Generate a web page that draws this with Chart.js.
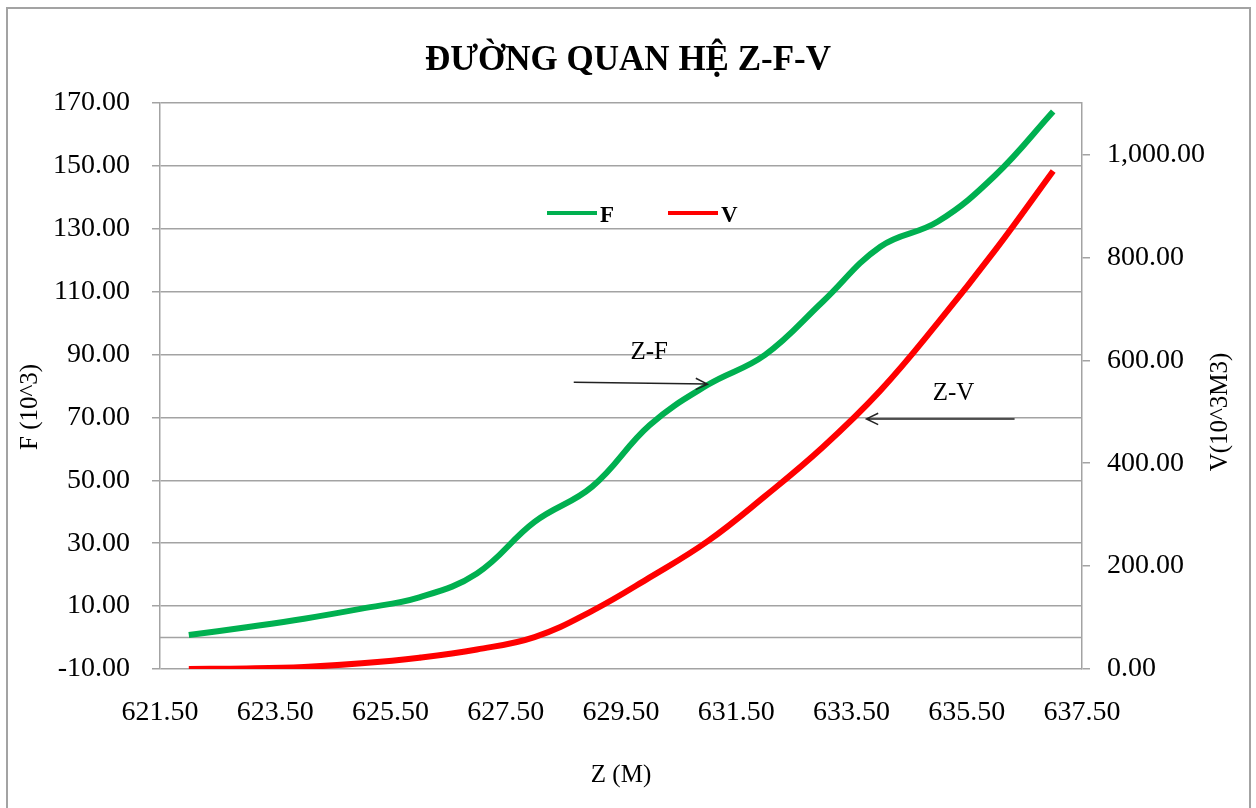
<!DOCTYPE html>
<html>
<head>
<meta charset="utf-8">
<title>Đường quan hệ Z-F-V</title>
<script src="https://cdn.jsdelivr.net/npm/chart.js@4.4.0/dist/chart.umd.min.js"></script>
<style>
  html, body { margin: 0; padding: 0; background: #fff; }
  #wrap { width: 1256px; height: 808px; }
</style>
</head>
<body>
<div id="wrap"><canvas id="zfvChart" width="1256" height="808"></canvas></div>
<script>
// Cao trình Z (m)
const zLevels = [622, 623, 624, 625, 626, 627, 628, 629, 630, 631, 632, 633, 634, 635, 636, 637];
// Diện tích mặt hồ F (10^3)
const fValues = [0.8, 3.3, 6.0, 9.2, 12.8, 20.4, 36.8, 48.0, 67.6, 80.3, 89.9, 106.8, 124.3, 132.3, 147.1, 167.3];
// Dung tích V (10^3 m3)
const vValues = [0, 1, 4, 11, 22, 38, 62, 113, 178, 248, 336, 431, 541, 673, 815, 968];

// tick labels
const zTicks = [621.5, 623.5, 625.5, 627.5, 629.5, 631.5, 633.5, 635.5, 637.5];
const fTicks = [-10, 10, 30, 50, 70, 90, 110, 130, 150, 170];
const vTicks = [0, 200, 400, 600, 800, 1000];

const serif = '"Liberation Serif", "DejaVu Serif", serif';
const gridColor = '#a3a3a3';

// Chú thích mũi tên (tọa độ theo giá trị trục)
const arrowZF = { text: 'Z-F', axis: 'y', from: [628.68, 81.2], to: [631.0, 80.6], label: [629.99, 90.8] };
const arrowZV = { text: 'Z-V', axis: 'y1', from: [636.33, 486], to: [633.76, 486], label: [635.27, 536] };

function drawArrow(ctx, x1, y1, x2, y2) {
    const ang = Math.atan2(y2 - y1, x2 - x1);
    const head = 13;
    ctx.beginPath();
    ctx.moveTo(x1, y1);
    ctx.lineTo(x2, y2);
    ctx.moveTo(x2 - head * Math.cos(ang - 0.45), y2 - head * Math.sin(ang - 0.45));
    ctx.lineTo(x2, y2);
    ctx.lineTo(x2 - head * Math.cos(ang + 0.45), y2 - head * Math.sin(ang + 0.45));
    ctx.stroke();
}

const extras = {
    id: 'extras',
    beforeDraw(chart) {
        const { ctx } = chart;
        ctx.save();
        ctx.fillStyle = '#fff';
        ctx.fillRect(0, 0, chart.width, chart.height);
        ctx.strokeStyle = gridColor;
        ctx.lineWidth = 2;
        ctx.strokeRect(7, 8, 1243, 830);
        ctx.restore();
    },
    beforeDatasetsDraw(chart) {
        // đường trục hoành cắt tại F = 0
        const { ctx, chartArea: a, scales } = chart;
        const y0 = scales.y.getPixelForValue(0);
        ctx.save();
        ctx.strokeStyle = gridColor;
        ctx.lineWidth = 1.5;
        ctx.beginPath();
        ctx.moveTo(a.left, y0);
        ctx.lineTo(a.right, y0);
        ctx.stroke();
        ctx.restore();
    },
    afterDraw(chart) {
        const { ctx, chartArea: a, scales } = chart;
        ctx.save();

        // axis titles
        ctx.fillStyle = '#000';
        ctx.font = '25px ' + serif;
        ctx.textAlign = 'center';
        ctx.textBaseline = 'middle';
        [['F (10^3)', 30, 407], ['V(10^3M3)', 1220, 412]].forEach(([t, x, y]) => {
            ctx.save();
            ctx.translate(x, y);
            ctx.rotate(-Math.PI / 2);
            ctx.fillText(t, 0, 0);
            ctx.restore();
        });

        // legend
        const cx = (a.left + a.right) / 2;
        const ly = a.top + 110;
        ctx.font = 'bold 23px ' + serif;
        ctx.textAlign = 'left';
        chart.data.datasets.forEach((ds, i) => {
            const x = cx - 74 + i * 121;
            ctx.strokeStyle = ds.borderColor;
            ctx.lineWidth = 4;
            ctx.beginPath();
            ctx.moveTo(x, ly);
            ctx.lineTo(x + 50, ly);
            ctx.stroke();
            ctx.fillStyle = '#000';
            ctx.fillText(ds.label, x + 53, ly + 3);
        });

        // annotations
        ctx.strokeStyle = '#222';
        ctx.lineWidth = 1.5;
        ctx.font = '25px ' + serif;
        ctx.textAlign = 'center';
        [arrowZF, arrowZV].forEach(an => {
            const ys = scales[an.axis];
            drawArrow(ctx,
                scales.x.getPixelForValue(an.from[0]), ys.getPixelForValue(an.from[1]),
                scales.x.getPixelForValue(an.to[0]), ys.getPixelForValue(an.to[1]));
            ctx.fillText(an.text, scales.x.getPixelForValue(an.label[0]), ys.getPixelForValue(an.label[1]));
        });
        ctx.restore();
    }
};

const ctx = document.getElementById('zfvChart');

new Chart(ctx, {
    type: 'line',
    data: {
        datasets: [{
            label: 'F',
            data: zLevels.map((z, i) => ({ x: z, y: fValues[i] })),
            borderColor: '#00b050',
            borderWidth: 6,
            pointRadius: 0,
            tension: 0.4,
            yAxisID: 'y'
        }, {
            label: 'V',
            data: zLevels.map((z, i) => ({ x: z, y: vValues[i] })),
            borderColor: '#ff0000',
            borderWidth: 6,
            pointRadius: 0,
            tension: 0.4,
            yAxisID: 'y1'
        }]
    },
    options: {
        responsive: false,
        animation: false,
        layout: { padding: { top: 20, left: 0, right: 0, bottom: 0 } },
        plugins: {
            legend: { display: false },
            tooltip: { enabled: false },
            title: {
                display: true,
                text: 'ĐƯỜNG QUAN HỆ Z-F-V',
                color: '#000',
                font: { family: serif, size: 35, weight: 'bold' },
                padding: { top: 20, bottom: 21 }
            }
        },
        scales: {
            x: {
                type: 'linear',
                min: 621.5,
                max: 637.5,
                afterBuildTicks: s => { s.ticks = zTicks.map(v => ({ value: v })); },
                afterFit: s => { s.height = 139; },
                ticks: {
                    padding: 27,
                    color: '#000',
                    font: { family: serif, size: 28 },
                    maxRotation: 0,
                    callback: v => v.toFixed(2)
                },
                grid: { display: false, drawTicks: false },
                border: { display: false },
                title: {
                    display: true,
                    text: 'Z (M)',
                    color: '#000',
                    font: { family: serif, size: 25 },
                    padding: { bottom: 18 }
                }
            },
            y: {
                position: 'left',
                min: -10,
                max: 170,
                afterBuildTicks: s => { s.ticks = fTicks.map(v => ({ value: v })); },
                afterFit: s => { s.width = 160; },
                ticks: {
                    padding: 22,
                    color: '#000',
                    font: { family: serif, size: 28 },
                    callback: v => v.toFixed(2)
                },
                grid: { color: gridColor, lineWidth: 1.5, tickLength: 8 },
                border: { color: gridColor, width: 1.5 }
            },
            y1: {
                position: 'right',
                min: 0,
                max: 1100,
                afterBuildTicks: s => { s.ticks = vTicks.map(v => ({ value: v })); },
                afterFit: s => { s.width = 174; },
                ticks: {
                    padding: 17,
                    color: '#000',
                    font: { family: serif, size: 28 },
                    callback: v => v.toLocaleString('en-US', { minimumFractionDigits: 2, maximumFractionDigits: 2 })
                },
                grid: { drawOnChartArea: false, color: gridColor, lineWidth: 1.5, tickLength: 8 },
                border: { color: gridColor, width: 1.5 }
            }
        }
    },
    plugins: [extras]
});
</script>
</body>
</html>
